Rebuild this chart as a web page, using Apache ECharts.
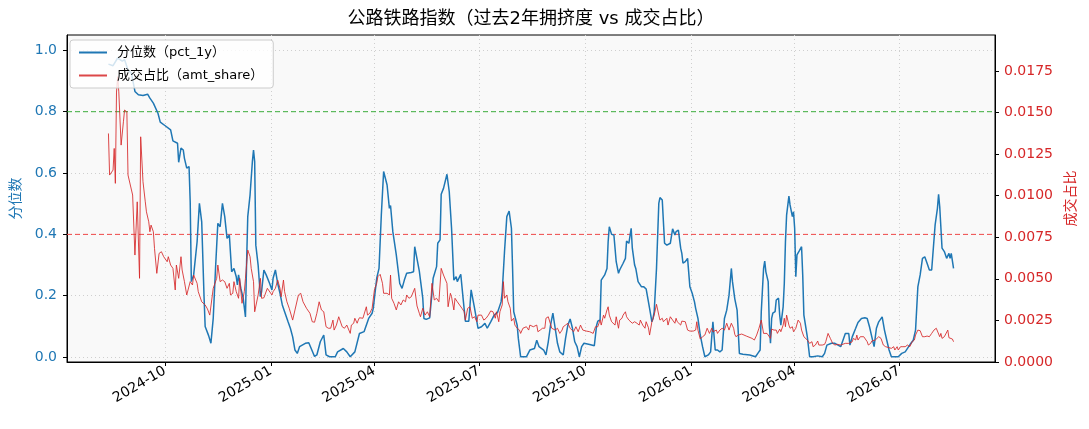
<!DOCTYPE html>
<html>
<head>
<meta charset="utf-8">
<script src="https://cdn.jsdelivr.net/npm/echarts@6/dist/echarts.min.js"></script>
<style>
html, body { margin: 0; padding: 0; background: #fff; }
#chart { width: 1089px; height: 429px; }
</style>
</head>
<body>
<div id="chart"></div>
<script>
// 分位数 pct_1y
const pctDates = [
  '2024-08-13','2024-08-17','2024-08-21','2024-08-25','2024-08-27','2024-08-30',
  '2024-09-02','2024-09-05','2024-09-08','2024-09-12','2024-09-16','2024-09-18','2024-09-21','2024-09-25','2024-09-27',
  '2024-10-01','2024-10-06','2024-10-08','2024-10-12','2024-10-13','2024-10-15','2024-10-17','2024-10-18','2024-10-20','2024-10-22','2024-10-23','2024-10-24','2024-10-26','2024-10-29','2024-10-31',
  '2024-11-02','2024-11-04','2024-11-05','2024-11-08','2024-11-10','2024-11-12','2024-11-14','2024-11-16','2024-11-18','2024-11-20','2024-11-22','2024-11-24','2024-11-26','2024-11-28','2024-11-30',
  '2024-12-02','2024-12-03','2024-12-04','2024-12-06','2024-12-08','2024-12-10','2024-12-11','2024-12-12','2024-12-14','2024-12-16','2024-12-17','2024-12-18','2024-12-19','2024-12-21','2024-12-23','2024-12-24','2024-12-26','2024-12-28','2024-12-31',
  '2025-01-02','2025-01-03','2025-01-05','2025-01-07','2025-01-09','2025-01-11','2025-01-13','2025-01-16','2025-01-18','2025-01-20','2025-01-22','2025-01-24','2025-01-26','2025-01-31',
  '2025-02-03','2025-02-06','2025-02-08','2025-02-10','2025-02-13','2025-02-16','2025-02-18','2025-02-21','2025-02-26','2025-02-28',
  '2025-03-05','2025-03-08','2025-03-11','2025-03-15','2025-03-19','2025-03-23','2025-03-27','2025-03-30','2025-03-31',
  '2025-04-03','2025-04-05','2025-04-07','2025-04-09','2025-04-12','2025-04-14','2025-04-15','2025-04-17','2025-04-20','2025-04-23','2025-04-25','2025-04-27','2025-04-29',
  '2025-05-03','2025-05-05','2025-05-06','2025-05-08','2025-05-10','2025-05-11','2025-05-13','2025-05-14','2025-05-16','2025-05-19','2025-05-21','2025-05-22','2025-05-25','2025-05-26','2025-05-28','2025-05-29','2025-05-31',
  '2025-06-03','2025-06-05','2025-06-07','2025-06-09','2025-06-11','2025-06-12','2025-06-15','2025-06-17','2025-06-19','2025-06-22','2025-06-24','2025-06-25','2025-06-27','2025-06-30',
  '2025-07-03','2025-07-06','2025-07-08','2025-07-11','2025-07-14','2025-07-17','2025-07-20','2025-07-21','2025-07-23','2025-07-25','2025-07-27','2025-07-29','2025-07-30','2025-07-31',
  '2025-08-03','2025-08-04','2025-08-06','2025-08-11','2025-08-14','2025-08-18','2025-08-20','2025-08-22','2025-08-26','2025-08-28','2025-08-30',
  '2025-09-01','2025-09-03','2025-09-05','2025-09-07','2025-09-09','2025-09-12','2025-09-14','2025-09-16','2025-09-18','2025-09-20','2025-09-22','2025-09-24','2025-09-26','2025-09-28','2025-09-30',
  '2025-10-05','2025-10-09','2025-10-11','2025-10-12','2025-10-14','2025-10-15','2025-10-18','2025-10-20','2025-10-21','2025-10-22','2025-10-24','2025-10-26','2025-10-28','2025-10-30','2025-10-31',
  '2025-11-03','2025-11-05','2025-11-06','2025-11-08','2025-11-10','2025-11-11','2025-11-13','2025-11-14','2025-11-16','2025-11-19','2025-11-21','2025-11-23','2025-11-25','2025-11-26','2025-11-28','2025-11-29','2025-11-30',
  '2025-12-02','2025-12-04','2025-12-05','2025-12-07','2025-12-09','2025-12-11','2025-12-14','2025-12-16','2025-12-18','2025-12-19','2025-12-21','2025-12-23','2025-12-24','2025-12-25','2025-12-27','2025-12-29','2025-12-31',
  '2026-01-02','2026-01-04','2026-01-05','2026-01-07','2026-01-09','2026-01-11','2026-01-13','2026-01-16','2026-01-18','2026-01-19','2026-01-20','2026-01-22','2026-01-24','2026-01-26','2026-01-28','2026-01-30',
  '2026-02-01','2026-02-03','2026-02-05','2026-02-06','2026-02-08','2026-02-10','2026-02-12','2026-02-15','2026-02-21','2026-02-26','2026-02-28',
  '2026-03-02','2026-03-03','2026-03-05','2026-03-06','2026-03-07','2026-03-09','2026-03-10','2026-03-11','2026-03-12','2026-03-13','2026-03-15','2026-03-16','2026-03-18','2026-03-19','2026-03-20','2026-03-22','2026-03-23','2026-03-24','2026-03-25','2026-03-27','2026-03-28','2026-03-30','2026-03-31',
  '2026-04-01','2026-04-02','2026-04-03','2026-04-05','2026-04-07','2026-04-08','2026-04-09','2026-04-12','2026-04-14','2026-04-17','2026-04-21','2026-04-25','2026-04-27','2026-04-29',
  '2026-05-03','2026-05-06','2026-05-11','2026-05-15','2026-05-18','2026-05-19','2026-05-21','2026-05-24','2026-05-26','2026-05-29',
  '2026-06-01','2026-06-03','2026-06-05','2026-06-07','2026-06-09','2026-06-11','2026-06-13','2026-06-16','2026-06-18','2026-06-20','2026-06-22','2026-06-24','2026-06-27','2026-06-30',
  '2026-07-03','2026-07-06','2026-07-09','2026-07-11','2026-07-13','2026-07-15','2026-07-17','2026-07-19','2026-07-21','2026-07-23','2026-07-25','2026-07-27','2026-07-29','2026-07-30',
  '2026-08-01','2026-08-03','2026-08-04','2026-08-05','2026-08-07','2026-08-09','2026-08-11','2026-08-13','2026-08-14','2026-08-15','2026-08-17'
];
const pctValues = [
  0.955,0.95,0.975,0.965,0.97,0.935,
  0.925,0.866,0.855,0.853,0.857,0.844,0.828,0.795,0.766,
  0.755,0.741,0.705,0.697,0.635,0.681,0.675,0.648,0.616,0.621,0.507,0.246,0.268,0.376,0.501,
  0.441,0.20,0.10,0.07,0.045,0.126,0.289,0.436,0.425,0.501,0.458,0.387,0.398,0.278,0.289,
  0.262,0.235,0.268,0.224,0.192,0.131,0.311,0.458,0.529,0.637,0.675,0.637,0.365,0.300,0.197,0.213,0.284,0.268,0.240,
  0.219,0.257,0.284,0.240,0.208,0.170,0.148,0.115,0.094,0.066,0.023,0.012,0.034,0.045,
  0.047,0.020,0.002,0.007,0.050,0.072,0.007,0.001,0.001,0.017,
  0.028,0.017,0.001,0.017,0.077,0.083,0.126,0.143,0.159,
  0.257,0.289,0.463,0.605,0.561,0.485,0.494,0.409,0.333,0.240,0.224,0.251,0.273,
  0.276,0.278,0.360,0.320,0.280,0.251,0.192,0.126,0.123,0.128,0.208,0.257,0.295,0.371,0.382,0.531,0.550,
  0.596,0.539,0.420,0.251,0.262,0.246,0.270,0.192,0.117,0.117,0.219,0.224,0.159,0.094,
  0.099,0.110,0.094,0.115,0.137,0.146,0.180,0.213,0.344,0.458,0.476,0.420,0.289,0.148,
  0.104,0.061,0.001,0.001,0.023,0.028,0.055,0.034,0.023,0.007,0.050,
  0.104,0.143,0.094,0.045,0.017,0.007,0.061,0.104,0.124,0.094,0.050,0.034,0.001,0.034,0.045,
  0.041,0.037,0.104,0.117,0.121,0.251,0.268,0.289,0.376,0.425,0.400,0.398,0.311,0.273,0.284,
  0.306,0.322,0.378,0.371,0.420,0.355,0.300,0.289,0.246,0.229,0.229,0.222,0.180,0.159,0.115,0.126,0.148,
  0.289,0.501,0.520,0.512,0.371,0.365,0.371,0.418,0.398,0.409,0.414,0.355,0.338,0.306,0.311,0.322,0.229,
  0.208,0.180,0.159,0.126,0.072,0.034,0.001,0.007,0.017,0.023,0.115,0.023,0.023,0.017,0.023,0.126,
  0.153,0.202,0.289,0.246,0.190,0.153,0.012,0.009,0.007,0.001,0.012,
  0.023,0.148,0.289,0.313,0.278,0.246,0.104,0.045,0.126,0.143,0.148,0.186,0.192,0.137,0.104,0.164,0.240,0.376,0.463,0.525,0.496,0.458,0.474,
  0.420,0.262,0.333,0.346,0.360,0.268,0.137,0.066,0.001,0.001,0.004,0.001,0.012,0.039,
  0.045,0.045,0.034,0.077,0.077,0.039,0.066,0.094,0.113,0.126,
  0.128,0.126,0.099,0.066,0.034,0.094,0.115,0.131,0.088,0.055,0.023,0.001,0.001,0.001,
  0.012,0.017,0.034,0.045,0.055,0.088,0.229,0.268,0.322,0.327,0.306,0.284,0.284,0.333,
  0.431,0.485,0.531,0.490,0.355,0.344,0.322,0.338,0.322,0.338,0.289
];

// 成交占比 amt_share
const shareDates = [
  '2024-08-13','2024-08-14','2024-08-17','2024-08-18','2024-08-19','2024-08-20','2024-08-21','2024-08-22','2024-08-24','2024-08-26','2024-08-27','2024-08-29','2024-08-30',
  '2024-09-01','2024-09-03','2024-09-05','2024-09-07','2024-09-09','2024-09-10','2024-09-12','2024-09-14','2024-09-15','2024-09-17','2024-09-18','2024-09-19','2024-09-21','2024-09-22','2024-09-24','2024-09-26','2024-09-28','2024-09-30',
  '2024-10-03','2024-10-04','2024-10-06','2024-10-08','2024-10-10','2024-10-11','2024-10-13','2024-10-15','2024-10-16','2024-10-18','2024-10-20','2024-10-23','2024-10-25','2024-10-26','2024-10-29','2024-10-30',
  '2024-11-02','2024-11-05','2024-11-07','2024-11-09','2024-11-12','2024-11-15','2024-11-16','2024-11-18','2024-11-20','2024-11-22','2024-11-24','2024-11-26','2024-11-27','2024-11-29','2024-11-30',
  '2024-12-02','2024-12-04','2024-12-05','2024-12-07','2024-12-09','2024-12-10','2024-12-12','2024-12-14','2024-12-15','2024-12-17','2024-12-18','2024-12-21','2024-12-23','2024-12-24','2024-12-26','2024-12-29','2024-12-30',
  '2025-01-02','2025-01-03','2025-01-05','2025-01-07','2025-01-09','2025-01-10','2025-01-12','2025-01-13','2025-01-15','2025-01-17','2025-01-20','2025-01-22','2025-01-25','2025-01-27','2025-01-29',
  '2025-02-01','2025-02-04','2025-02-06','2025-02-08','2025-02-10','2025-02-12','2025-02-14','2025-02-16','2025-02-18','2025-02-20','2025-02-22','2025-02-24','2025-02-25','2025-02-27',
  '2025-03-01','2025-03-04','2025-03-06','2025-03-08','2025-03-11','2025-03-12','2025-03-14','2025-03-15','2025-03-17','2025-03-18','2025-03-19','2025-03-22','2025-03-23','2025-03-25','2025-03-26','2025-03-28','2025-03-30',
  '2025-04-01','2025-04-03','2025-04-04','2025-04-06','2025-04-08','2025-04-09','2025-04-12','2025-04-14','2025-04-15','2025-04-16','2025-04-18','2025-04-20','2025-04-22','2025-04-24','2025-04-26','2025-04-28','2025-04-29',
  '2025-05-01','2025-05-03','2025-05-06','2025-05-08','2025-05-10','2025-05-11','2025-05-13','2025-05-15','2025-05-17','2025-05-19','2025-05-21','2025-05-23','2025-05-25','2025-05-27','2025-05-29','2025-05-31',
  '2025-06-03','2025-06-04','2025-06-06','2025-06-07','2025-06-09','2025-06-10','2025-06-12','2025-06-16','2025-06-18','2025-06-19','2025-06-21','2025-06-23','2025-06-25','2025-06-27','2025-06-29','2025-06-30',
  '2025-07-03','2025-07-05','2025-07-07','2025-07-09','2025-07-11','2025-07-13','2025-07-15','2025-07-16','2025-07-18','2025-07-19','2025-07-21','2025-07-22','2025-07-23','2025-07-25','2025-07-26','2025-07-28','2025-07-29','2025-07-31',
  '2025-08-01','2025-08-03','2025-08-05','2025-08-06','2025-08-08','2025-08-11','2025-08-13','2025-08-14','2025-08-17','2025-08-18','2025-08-20','2025-08-21','2025-08-23','2025-08-25','2025-08-27','2025-08-28','2025-08-30','2025-08-31',
  '2025-09-02','2025-09-03','2025-09-05','2025-09-07','2025-09-09','2025-09-11','2025-09-12','2025-09-14','2025-09-16','2025-09-18','2025-09-19','2025-09-21','2025-09-23','2025-09-25','2025-09-27','2025-09-28','2025-09-29',
  '2025-10-02','2025-10-05','2025-10-08','2025-10-10','2025-10-12','2025-10-14','2025-10-15','2025-10-17','2025-10-18','2025-10-20','2025-10-21','2025-10-22','2025-10-24','2025-10-25','2025-10-27','2025-10-28','2025-10-30','2025-10-31',
  '2025-11-02','2025-11-03','2025-11-05','2025-11-06','2025-11-08','2025-11-09','2025-11-11','2025-11-13','2025-11-15','2025-11-17','2025-11-18','2025-11-20','2025-11-22','2025-11-23','2025-11-25','2025-11-26','2025-11-28','2025-11-30',
  '2025-12-02','2025-12-04','2025-12-05','2025-12-07','2025-12-08','2025-12-09','2025-12-11','2025-12-12','2025-12-14','2025-12-16','2025-12-18','2025-12-19','2025-12-20','2025-12-23','2025-12-24','2025-12-27','2025-12-29','2025-12-31',
  '2026-01-03','2026-01-05','2026-01-06','2026-01-07','2026-01-09','2026-01-11','2026-01-13','2026-01-15','2026-01-17','2026-01-19','2026-01-20','2026-01-23','2026-01-24','2026-01-26','2026-01-28','2026-01-30',
  '2026-02-01','2026-02-03','2026-02-05','2026-02-07','2026-02-08','2026-02-09','2026-02-11','2026-02-14','2026-02-18','2026-02-23','2026-02-25','2026-02-27',
  '2026-03-01','2026-03-03','2026-03-05','2026-03-08','2026-03-09','2026-03-11','2026-03-12','2026-03-14','2026-03-16','2026-03-17','2026-03-19','2026-03-20','2026-03-22','2026-03-23','2026-03-24','2026-03-25','2026-03-27','2026-03-28','2026-03-30','2026-03-31',
  '2026-04-02','2026-04-04','2026-04-06','2026-04-07','2026-04-09','2026-04-10','2026-04-12','2026-04-14','2026-04-16','2026-04-17','2026-04-19','2026-04-21','2026-04-22','2026-04-25','2026-04-27','2026-04-28','2026-04-30',
  '2026-05-02','2026-05-04','2026-05-06','2026-05-08','2026-05-11','2026-05-15','2026-05-18','2026-05-21','2026-05-22','2026-05-24','2026-05-25','2026-05-26','2026-05-28','2026-05-29','2026-05-31',
  '2026-06-01','2026-06-03','2026-06-04','2026-06-06','2026-06-07','2026-06-08','2026-06-10','2026-06-11','2026-06-13','2026-06-15','2026-06-17','2026-06-19','2026-06-22','2026-06-24','2026-06-26','2026-06-27','2026-06-29','2026-06-30',
  '2026-07-02','2026-07-04','2026-07-06','2026-07-08','2026-07-10','2026-07-12','2026-07-14','2026-07-15','2026-07-17','2026-07-19','2026-07-21','2026-07-23','2026-07-25','2026-07-27','2026-07-29','2026-07-31',
  '2026-08-02','2026-08-03','2026-08-05','2026-08-06','2026-08-07','2026-08-09','2026-08-10','2026-08-12','2026-08-13','2026-08-16','2026-08-17'
];
const shareValues = [
  0.01374,0.01124,0.01154,0.01284,0.01074,0.01623,0.01715,0.01624,0.01304,0.01444,0.01515,0.01504,0.01124,
  0.01064,0.01004,0.00643,0.00963,0.00503,0.01354,0.01084,0.00963,0.00903,0.00843,0.00783,0.00823,0.00783,0.00683,0.00533,0.00653,0.00663,0.00633,
  0.00603,0.00633,0.00583,0.00563,0.00433,0.00583,0.00503,0.00633,0.00553,0.00483,0.00403,0.00483,0.00463,0.00523,0.00473,0.00423,
  0.00362,0.00343,0.00319,0.00282,0.00443,0.00503,0.00583,0.00483,0.00493,0.00483,0.00443,0.00473,0.00403,0.00413,0.00483,
  0.00423,0.00383,0.00503,0.00353,0.00423,0.00503,0.00673,0.00633,0.00563,0.00483,0.00302,0.00403,0.00503,0.00383,0.00386,0.00443,0.00443,
  0.00403,0.00423,0.00443,0.00493,0.00443,0.00392,0.00493,0.00423,0.00362,0.00323,0.00252,0.00313,0.00403,0.00413,0.00362,
  0.00323,0.00293,0.00242,0.00239,0.00293,0.00362,0.00313,0.00302,0.00212,0.00203,0.00203,0.00252,0.00192,0.00222,
  0.00272,0.00212,0.00203,0.00222,0.00172,0.00222,0.00233,0.00263,0.00233,0.00252,0.00266,0.00263,0.00272,0.00332,0.00282,0.00293,0.00323,
  0.00433,0.00473,0.00513,0.00527,0.00473,0.00413,0.00413,0.00403,0.00523,0.00383,0.00353,0.00313,0.00362,0.00343,0.00373,0.00362,0.00403,
  0.00383,0.00392,0.00443,0.00337,0.00293,0.00272,0.00323,0.00282,0.00302,0.00272,0.00473,0.00373,0.00383,0.00362,0.00563,0.00523,
  0.00473,0.00332,0.00413,0.00392,0.00313,0.00383,0.00362,0.00323,0.00302,0.00252,0.00323,0.00332,0.00263,0.00272,0.00242,0.00282,
  0.00282,0.00252,0.00263,0.00282,0.00307,0.00302,0.00263,0.00302,0.00242,0.00302,0.00343,0.00483,0.00383,0.00403,0.00362,0.00323,0.00246,0.00263,
  0.00222,0.00203,0.00192,0.00172,0.00203,0.00212,0.00192,0.00222,0.00212,0.00203,0.00222,0.00182,0.00192,0.00203,0.00203,0.00263,0.00272,0.00282,
  0.00203,0.00212,0.00192,0.00203,0.00172,0.00192,0.00212,0.00222,0.00233,0.00203,0.00192,0.00182,0.00212,0.00182,0.00222,0.00212,0.00192,
  0.00186,0.00182,0.00172,0.00212,0.00212,0.00252,0.00222,0.00282,0.00263,0.00313,0.00332,0.00282,0.00242,0.00252,0.00222,0.00272,0.00203,0.00252,
  0.00263,0.00282,0.00302,0.00272,0.00252,0.00263,0.00233,0.00242,0.00233,0.00222,0.00252,0.00222,0.00203,0.00242,0.00206,0.00162,0.00242,0.00282,
  0.00347,0.00282,0.00252,0.00263,0.00242,0.00233,0.00263,0.00222,0.00272,0.00252,0.00233,0.00263,0.00242,0.00222,0.00246,0.00242,0.00192,0.00186,
  0.00186,0.00192,0.00242,0.00192,0.00138,0.00152,0.00162,0.00203,0.00172,0.00203,0.00182,0.00192,0.00172,0.00192,0.00203,0.00192,
  0.00233,0.00192,0.00233,0.00203,0.00166,0.00152,0.00162,0.00168,0.00156,0.00142,0.00132,0.00162,
  0.00203,0.00252,0.00172,0.00172,0.00178,0.00142,0.00198,0.00192,0.00192,0.00172,0.00198,0.00182,0.00222,0.00263,0.00212,0.00282,0.00222,0.00203,0.00212,0.00182,
  0.00203,0.00252,0.00233,0.00192,0.00152,0.00142,0.00132,0.00112,0.00122,0.00092,0.00102,0.00126,0.00102,0.00102,0.00106,0.00122,0.00172,
  0.00142,0.00112,0.00102,0.00106,0.00102,0.00112,0.00112,0.00122,0.00142,0.00132,0.00162,0.00132,0.00152,0.00142,0.00152,
  0.00142,0.00122,0.00102,0.00112,0.00126,0.00122,0.00132,0.00142,0.00152,0.00142,0.00102,0.00092,0.00086,0.00082,0.00092,0.00072,0.00092,0.00072,
  0.00092,0.00092,0.00092,0.00102,0.00092,0.00122,0.00132,0.00162,0.00192,0.00188,0.00152,0.00152,0.00156,0.00152,0.00172,0.00192,
  0.00203,0.00192,0.00152,0.00172,0.00142,0.00152,0.00162,0.00192,0.00146,0.00138,0.00122
];

// 坐标轴刻度
const xTickLabels = ['2024-10','2025-01','2025-04','2025-07','2025-10','2026-01','2026-04','2026-07'];
const pctTicks = [0, 0.2, 0.4, 0.6, 0.8, 1.0];
const shareTicks = [0, 0.0025, 0.005, 0.0075, 0.01, 0.0125, 0.015, 0.0175];
const pctHigh = 0.8;
const pctLow = 0.4;
const xStart = '2024-07-08';
const xEnd = '2026-09-22';

const FONT = "'DejaVu Sans', 'Noto Sans CJK SC', sans-serif";
const BLUE = '#1f77b4';
const RED = '#d62728';

const toTime = s => +echarts.time.parse(s);
const zip = (ds, vs) => ds.map((d, i) => [toTime(d), vs[i]]);
const xTicks = xTickLabels.map(s => toTime(s + '-01'));
const xMin = toTime(xStart);
const xMax = toTime(xEnd);

// 阈值虚线（横跨整个绘图区）
function levelLine(name, value, color) {
    return {
        name: name,
        type: 'line',
        yAxisIndex: 0,
        symbol: 'none',
        silent: true,
        data: [[xMin, value], [xMax, value]],
        lineStyle: { color: color, type: [5, 3], width: 1 },
        itemStyle: { color: color },
        z: 1
    };
}

const chart = echarts.init(document.getElementById('chart'));

chart.setOption({
    animation: false,
    textStyle: { fontFamily: FONT },
    title: {
        text: '公路铁路指数（过去2年拥挤度 vs 成交占比）',
        left: 531,
        top: 10,
        padding: 0,
        textAlign: 'center',
        textStyle: { fontSize: 18, fontWeight: 'normal', color: '#000', fontFamily: FONT }
    },
    legend: {
        orient: 'vertical',
        left: 70,
        top: 40,
        padding: [6, 10, 6, 8],
        itemGap: 10,
        itemWidth: 28,
        itemHeight: 14,
        backgroundColor: 'rgba(255,255,255,0.8)',
        borderColor: '#cccccc',
        borderWidth: 1,
        borderRadius: 3,
        itemStyle: { opacity: 0 },
        textStyle: { fontSize: 13, color: '#000', fontFamily: FONT, padding: [0, 0, 0, 5] },
        data: ['分位数（pct_1y）', '成交占比（amt_share）']
    },
    grid: {
        left: 67, right: 94, top: 35, bottom: 67,
        show: true,
        backgroundColor: '#f9f9f9',
        borderColor: '#000',
        borderWidth: 1
    },
    xAxis: {
        type: 'value',
        min: xMin,
        max: xMax,
        axisLine: { show: true, onZero: false, lineStyle: { color: '#000', width: 1 } },
        axisTick: { show: true, length: 4, customValues: xTicks, lineStyle: { color: '#000' } },
        axisLabel: {
            customValues: xTicks,
            rotate: 30,
            margin: 8,
            fontSize: 14,
            color: '#000',
            fontFamily: FONT,
            formatter: v => echarts.time.format(v, '{yyyy}-{MM}', false)
        },
        splitLine: { show: true, lineStyle: { color: '#cfcfcf', type: [1, 3], width: 1 } }
    },
    yAxis: [
        {
            type: 'value',
            min: -0.016,
            max: 1.05,
            position: 'left',
            name: '分位数',
            nameLocation: 'middle',
            nameRotate: 90,
            nameGap: 42,
            nameTextStyle: { color: BLUE, fontSize: 14, fontFamily: FONT },
            axisLine: { show: true, onZero: false, lineStyle: { color: '#000' } },
            axisTick: { show: true, length: 4, customValues: pctTicks, lineStyle: { color: '#000' } },
            axisLabel: {
                customValues: pctTicks,
                margin: 10,
                fontSize: 14,
                color: BLUE,
                fontFamily: FONT,
                formatter: v => v.toFixed(1)
            },
            splitLine: { show: true, lineStyle: { color: '#cfcfcf', type: [1, 3], width: 1 } }
        },
        {
            type: 'value',
            min: 0,
            max: 0.01966,
            position: 'right',
            name: '成交占比',
            nameLocation: 'middle',
            nameRotate: 90,
            nameGap: 68,
            nameTextStyle: { color: RED, fontSize: 14, fontFamily: FONT },
            axisLine: { show: true, onZero: false, lineStyle: { color: '#000' } },
            axisTick: { show: true, length: 4, customValues: shareTicks, lineStyle: { color: '#000' } },
            axisLabel: {
                customValues: shareTicks,
                margin: 9,
                fontSize: 14,
                color: RED,
                fontFamily: FONT,
                formatter: v => v.toFixed(4)
            },
            splitLine: { show: false }
        }
    ],
    series: [
        levelLine('high', pctHigh, '#3cae3c'),
        levelLine('low', pctLow, '#f04848'),
        {
            name: '分位数（pct_1y）',
            type: 'line',
            yAxisIndex: 0,
            symbol: 'none',
            data: zip(pctDates, pctValues),
            lineStyle: { color: BLUE, width: 1.5 },
            itemStyle: { color: BLUE },
            z: 2
        },
        {
            name: '成交占比（amt_share）',
            type: 'line',
            yAxisIndex: 1,
            symbol: 'none',
            data: zip(shareDates, shareValues),
            lineStyle: { color: RED, width: 1, opacity: 0.85 },
            itemStyle: { color: RED },
            z: 3
        }
    ]
});
</script>
</body>
</html>
